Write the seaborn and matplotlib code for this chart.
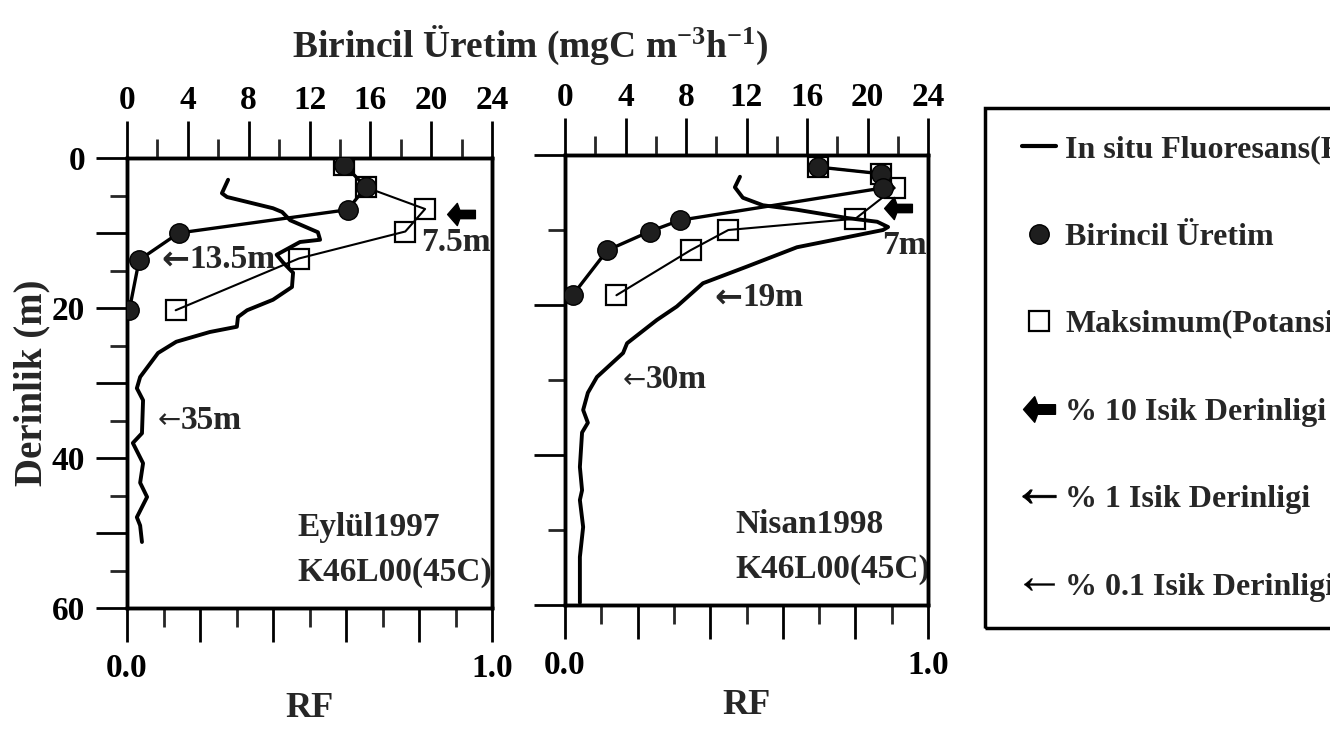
import matplotlib
matplotlib.use("Agg")
import matplotlib.pyplot as plt
import seaborn as sns
from matplotlib.path import Path
from matplotlib.lines import Line2D
from matplotlib.patches import Rectangle
from matplotlib.ticker import FixedLocator, FuncFormatter, NullFormatter

# ---------------- data ----------------
# Eylül 1997 - in situ fluorescence (RF) vs depth (m)
fl1_depth = [2.9, 4.7, 5.2, 6.7, 7.2, 8.3, 9.9, 10.9, 11.2, 12.9, 13.9, 15.3, 17.2,
             18.9, 20.3, 21.2, 22.5, 23.2, 24.5, 26.0, 29.2, 30.7, 32.3, 36.7, 38.0,
             40.7, 43.3, 45.2, 47.9, 49.0, 51.2]
fl1_rf = [0.277, 0.260, 0.274, 0.400, 0.425, 0.447, 0.523, 0.529, 0.474, 0.410, 0.427,
          0.455, 0.452, 0.400, 0.329, 0.304, 0.301, 0.227, 0.135, 0.085, 0.036, 0.027,
          0.044, 0.041, 0.016, 0.044, 0.036, 0.055, 0.027, 0.036, 0.041]
# Eylül 1997 - primary production and maximum (potential) production
pp1_depth = [0.9, 3.9, 6.9, 10.0, 13.6, 20.3]
pp1 = [14.3, 15.7, 14.5, 3.4, 0.8, 0.15]
max1_depth = [0.9, 3.9, 6.8, 9.8, 13.4, 20.3]
max1 = [14.3, 15.7, 19.6, 18.3, 11.3, 3.2]

# Nisan 1998
fl2_depth = [2.9, 4.3, 5.7, 6.7, 7.3, 8.4, 8.9, 9.6, 10.0, 12.3, 14.9, 17.1, 20.2, 22.0,
             25.1, 26.4, 29.6, 31.7, 34.0, 35.7, 37.0, 41.6, 44.7, 46.0, 49.6, 53.6, 59.7]
fl2_rf = [0.482, 0.468, 0.490, 0.545, 0.639, 0.777, 0.860, 0.890, 0.876, 0.639, 0.500,
          0.380, 0.308, 0.253, 0.171, 0.160, 0.088, 0.063, 0.050, 0.063, 0.047, 0.041,
          0.047, 0.041, 0.050, 0.041, 0.041]
pp2_depth = [1.6, 2.5, 4.4, 8.7, 10.2, 12.7, 18.7]
pp2 = [16.7, 20.9, 21.0, 7.6, 5.6, 2.8, 0.5]
max2_depth = [1.6, 2.5, 4.4, 8.5, 10.0, 12.7, 18.7]
max2 = [16.7, 20.9, 21.8, 19.2, 10.8, 8.3, 3.4]

# light depths (m): 10 %, 1 %, 0.1 %
light10 = [7.5, 7]
light1 = [13.5, 19]
light01 = [35, 30]
light10_lbl = ["7.5m", "7m"]
light1_lbl = ["13.5m", "19m"]
light01_lbl = ["35m", "30m"]
panel_names = [["Eylül1997", "K46L00(45C)"], ["Nisan1998", "K46L00(45C)"]]

pp_ticks = [0, 4, 8, 12, 16, 20, 24]
rf_ticks = [0.0, 0.2, 0.4, 0.6, 0.8, 1.0]

legend_labels = ["In situ Fluoresans(RF)", "Birincil Üretim", "Maksimum(Potansiyel)",
                 "% 10 Isik Derinligi", "% 1 Isik Derinligi", "% 0.1 Isik Derinligi"]

# ---------------- style ----------------
sns.set_theme(style="ticks")
plt.rcParams["font.family"] = ["Liberation Serif", "DejaVu Serif"]
plt.rcParams["font.weight"] = "bold"
plt.rcParams["mathtext.fontset"] = "custom"
plt.rcParams["mathtext.rm"] = "Liberation Serif:bold"
plt.rcParams["mathtext.bf"] = "Liberation Serif:bold"
plt.rcParams["mathtext.it"] = "Liberation Serif:bold"
plt.rcParams["mathtext.default"] = "rm"
plt.rcParams["axes.edgecolor"] = "black"

W, H = 1330, 735
fig = plt.figure(figsize=(W / 100, H / 100), dpi=100)
ax1 = fig.add_axes([127 / W, 1 - 608 / H, 365 / W, 450 / H])
ax2 = fig.add_axes([565 / W, 1 - 605 / H, 363 / W, 450 / H])

arrow_verts = [(-1, 0), (-0.3, 0.8), (-0.12, 0.3), (1, 0.3), (1, -0.3), (-0.12, -0.3),
               (-0.3, -0.8), (-1, 0)]
arrow_codes = [Path.MOVETO] + [Path.LINETO] * 6 + [Path.CLOSEPOLY]
thick_arrow = Path(arrow_verts, arrow_codes)

TXT = 24
LEG = 23

panels = [
    (ax1, fl1_rf, fl1_depth, pp1, pp1_depth, max1, max1_depth,
     dict(a10=(0.915, 0.90, 11.3), a1=0.17, a01=0.148)),
    (ax2, fl2_rf, fl2_depth, pp2, pp2_depth, max2, max2_depth,
     dict(a10=(0.917, 0.934, 12.1), a1=0.488, a01=0.223)),
]

for i, (ax, rf, fd, pp, ppd, mx, mxd, pos) in enumerate(panels):
    ax.set_facecolor("white")
    sns.lineplot(x=rf, y=fd, sort=False, estimator=None, ax=ax, color="black", lw=2.8)
    ax.set_xlim(0, 1)
    ax.set_ylim(60, 0)

    top = ax.twiny()
    sns.lineplot(x=mx, y=mxd, sort=False, estimator=None, ax=top, color="black", lw=1.5,
                 marker="s", ms=14, mfc="none", mec="black", mew=1.6, zorder=3)
    sns.lineplot(x=pp, y=ppd, sort=False, estimator=None, ax=top, color="black", lw=2.4,
                 marker="o", ms=14, mfc="#1e1e1e", mec="black", mew=1.0, zorder=4)
    top.set_xlim(0, 24)
    top.set_ylim(60, 0)
    top.set_xlabel("")
    top.set_ylabel("")
    top.xaxis.set_major_locator(FixedLocator(pp_ticks))
    top.xaxis.set_minor_locator(FixedLocator([t + 2 for t in pp_ticks[:-1]]))
    top.tick_params(axis="x", which="major", direction="out", length=27, width=2,
                    labelsize=TXT, pad=3, colors="black")
    top.tick_params(axis="x", which="minor", direction="out", length=14, width=2)

    # bottom RF axis
    ax.xaxis.set_major_locator(FixedLocator(rf_ticks))
    ax.xaxis.set_minor_locator(FixedLocator([0.1, 0.3, 0.5, 0.7, 0.9]))
    ax.xaxis.set_major_formatter(FuncFormatter(
        lambda v, p: f"{v:.1f}" if (abs(v) < 1e-9 or abs(v - 1) < 1e-9) else ""))
    ax.tick_params(axis="x", which="major", direction="out", length=24.5, width=2,
                   labelsize=TXT, pad=8, colors="black")
    ax.tick_params(axis="x", which="minor", direction="out", length=13.5, width=2)
    ax.set_xlabel("RF", fontsize=26, fontweight="bold", labelpad=6)

    # depth axis
    if i == 0:
        ax.yaxis.set_major_locator(FixedLocator(range(0, 61, 10)))
        ax.yaxis.set_minor_locator(FixedLocator(range(5, 60, 10)))
        ax.yaxis.set_major_formatter(FuncFormatter(
            lambda v, p: f"{int(v)}" if int(round(v)) % 20 == 0 else ""))
        ax.set_ylabel("Derinlik (m)", fontsize=28, fontweight="bold", labelpad=1)
    else:
        ax.yaxis.set_major_locator(FixedLocator(range(0, 61, 20)))
        ax.yaxis.set_minor_locator(FixedLocator(range(10, 60, 20)))
        ax.yaxis.set_major_formatter(NullFormatter())
        ax.set_ylabel("")
    ax.tick_params(axis="y", which="major", direction="out", length=22, width=2,
                   labelsize=TXT, pad=8, colors="black")
    ax.tick_params(axis="y", which="minor", direction="out", length=12, width=2)

    for a in (ax, top):
        for sp in a.spines.values():
            sp.set_linewidth(2.5)
            sp.set_color("black")

    # light depth annotations
    ax_x, lbl_x, lbl_y = pos["a10"]
    ax.plot([ax_x], [light10[i]], ls="none", marker=thick_arrow, ms=20, color="black",
            clip_on=False)
    ax.text(lbl_x, lbl_y, light10_lbl[i], ha="center", va="center", fontsize=TXT,
            fontweight="bold")
    ax.text(pos["a1"], light1[i], "←", ha="right", va="center", fontsize=24,
            fontweight="bold", family="DejaVu Sans")
    ax.text(pos["a1"], light1[i], light1_lbl[i], ha="left", va="center", fontsize=TXT,
            fontweight="bold")
    ax.text(pos["a01"], light01[i], "←", ha="right", va="center", fontsize=20,
            fontweight="normal", family="DejaVu Sans")
    ax.text(pos["a01"], light01[i], light01_lbl[i], ha="left", va="center", fontsize=TXT,
            fontweight="bold")

    ax.text(0.468, 0.178, panel_names[i][0], transform=ax.transAxes, ha="left",
            va="center", fontsize=TXT, fontweight="bold")
    ax.text(0.468, 0.078, panel_names[i][1], transform=ax.transAxes, ha="left",
            va="center", fontsize=TXT, fontweight="bold")

# title for the top axis
fig.text(530 / W, 1 - 45 / H, "Birincil Üretim (mgC m$^{-3}$h$^{-1}$)", ha="center",
         va="center", fontsize=27, fontweight="bold")

# legend
handles = [
    Line2D([], [], color="black", lw=3),
    Line2D([], [], ls="none", marker="o", ms=14, mfc="#1e1e1e", mec="black"),
    Line2D([], [], ls="none", marker="s", ms=15, mfc="none", mec="black", mew=1.6),
    Line2D([], [], ls="none", marker=thick_arrow, ms=23, color="black"),
    Line2D([], [], ls="none", marker=r"$\leftarrow$", ms=24, color="black", mew=0.6),
    Line2D([], [], ls="none", marker=r"$\leftarrow$", ms=22, color="black", mew=0.1),
]
fig.legend(handles, legend_labels, loc="upper left",
           bbox_to_anchor=(1022 / W, 1 - 135 / H), frameon=False,
           handlelength=1.05, handletextpad=0.3, labelspacing=1.82, borderpad=0,
           borderaxespad=0, prop={"weight": "bold", "size": LEG})
fig.add_artist(Rectangle((985 / W, 1 - 628 / H), (1500 - 985) / W, (628 - 108) / H,
                         transform=fig.transFigure, fill=False, lw=2.5, ec="black",
                         clip_on=False))

fig.savefig("out.png", dpi=100)
